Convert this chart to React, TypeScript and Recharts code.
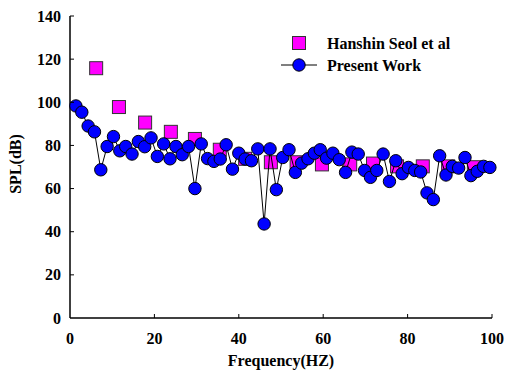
import React from 'react';
import { ScatterChart, Scatter, XAxis, YAxis, Customized } from 'recharts';

// Present Work: frequency (Hz) and SPL (dB)
const freqPresent = [
  1.4, 2.8, 4.3, 5.8, 7.3, 8.8, 10.3, 11.8, 13.2, 14.7, 16.2, 17.7, 19.2, 20.7, 22.2, 23.7, 25.1,
  26.6, 28.1, 29.6, 31.1, 32.6, 34.1, 35.6, 37.0, 38.5, 40.0, 41.5, 43.0, 44.5, 46.0, 47.4, 48.9,
  50.4, 51.9, 53.4, 54.9, 56.4, 57.9, 59.3, 60.8, 62.3, 63.8, 65.3, 66.8, 68.3, 69.8, 71.2, 72.7,
  74.2, 75.7, 77.2, 78.7, 80.2, 81.7, 83.1, 84.6, 86.1, 87.6, 89.1, 90.6, 92.1, 93.6, 95.0, 96.5,
  98.0, 99.5,
];
const splPresent = [
  98.3, 95.4, 89.0, 86.3, 68.7, 79.5, 84.1, 77.5, 79.5, 76.0, 81.8, 79.4, 83.5, 74.9, 80.7, 73.8,
  79.5, 75.7, 79.5, 60.0, 80.7, 73.9, 72.6, 73.7, 80.3, 69.0, 76.4, 73.7, 72.9, 78.4, 43.6, 78.4,
  59.5, 74.4, 78.0, 67.5, 71.8, 73.8, 76.4, 78.0, 74.1, 76.4, 73.4, 67.5, 76.9, 76.0, 68.4, 65.2,
  68.4, 76.0, 63.3, 72.9, 66.9, 69.8, 68.4, 67.7, 58.0, 54.9, 75.2, 66.3, 70.3, 69.5, 74.4, 66.0,
  68.0, 70.3, 69.8,
];

// Hanshin Seol et al: frequency (Hz) and SPL (dB)
const freqSeol = [6.2, 11.6, 17.8, 23.9, 29.6, 35.5, 41.5, 47.6, 53.7, 59.7, 66.4, 71.8, 77.5, 83.6, 89.6, 95.7];
const splSeol = [115.8, 97.8, 90.6, 86.3, 83.0, 78.0, 73.8, 72.2, 72.2, 71.2, 71.2, 71.6, 70.3, 70.3, 70.3, 69.9];

const xTicks = [0, 20, 40, 60, 80, 100];
const yTicks = [0, 20, 40, 60, 80, 100, 120, 140];

const presentData = freqPresent.map((f, i) => ({ f, spl: splPresent[i] }));
const seolData = freqSeol.map((f, i) => ({ f, spl: splSeol[i] }));

const FONT = '"Liberation Serif", "Times New Roman", serif';
const BLUE = '#0000FF';
const MAGENTA = '#FF00FF';

const textStyle = { fontFamily: FONT, fontWeight: 700, fontSize: 16, fill: '#000' } as const;

// Tick marks point into the plot area on both axes
const XTick = (props: any) => {
  const { x, y, payload } = props;
  return (
    <g>
      {payload.value !== 0 ? <line x1={x} x2={x} y1={y} y2={y - 4} stroke="#000" strokeWidth={1} /> : null}
      <text x={x} y={y + 20} dy="0.35em" textAnchor="middle" style={textStyle}>
        {payload.value}
      </text>
    </g>
  );
};

const YTick = (props: any) => {
  const { x, y, payload } = props;
  return (
    <g>
      {payload.value !== 0 ? <line x1={x} x2={x + 4} y1={y} y2={y} stroke="#000" strokeWidth={1} /> : null}
      <text x={x - 9} y={y} dy="0.35em" textAnchor="end" style={textStyle}>
        {payload.value}
      </text>
    </g>
  );
};

const YLabel = (props: any) => {
  const { viewBox } = props;
  const cx = viewBox.x + 7;
  const cy = viewBox.y + viewBox.height / 2 - 3;
  return (
    <text
      x={cx}
      y={cy}
      dy="0.35em"
      textAnchor="middle"
      transform={`rotate(-90, ${cx}, ${cy})`}
      style={textStyle}
    >
      SPL(dB)
    </text>
  );
};

const Square = (props: any) => {
  const { cx, cy } = props;
  return <rect x={cx - 6.5} y={cy - 6.5} width={13} height={13} fill={MAGENTA} stroke="#333" strokeWidth={1} />;
};

const Dot = (props: any) => {
  const { cx, cy } = props;
  return <circle cx={cx} cy={cy} r={6.2} fill={BLUE} stroke="#000" strokeWidth={1} />;
};

const LegendBlock = () => (
  <g>
    <rect x={284.5} y={28.5} width={13} height={13} fill={MAGENTA} stroke="#333" strokeWidth={1} />
    <text x={319} y={35} dy="0.35em" style={textStyle}>
      Hanshin Seol et al
    </text>
    <line x1={273} x2={309} y1={57} y2={57} stroke="#000" strokeWidth={1} />
    <circle cx={291} cy={57} r={6.2} fill={BLUE} stroke="#000" strokeWidth={1} />
    <text x={319} y={57} dy="0.35em" style={textStyle}>
      Present Work
    </text>
  </g>
);

export default function App() {
  return (
    <>
      <style>
        {'html, body { overflow: hidden; } body { margin: 8px 0 8px 8px; } svg.recharts-surface { max-width: none !important; }'}
      </style>
      <ScatterChart width={500} height={362} margin={{ top: 8, right: 16, bottom: 0, left: 0 }}>
        <XAxis
          type="number"
          dataKey="f"
          domain={[0, 100]}
          ticks={xTicks}
          interval={0}
          height={52}
          axisLine={{ stroke: '#000', strokeWidth: 1.5 }}
          tickLine={false}
          tickSize={0}
          tickMargin={0}
          tick={(p: any) => <XTick {...p} />}
          label={{ value: 'Frequency(HZ)', position: 'insideBottom', offset: 4, style: textStyle }}
        />
        <YAxis
          type="number"
          dataKey="spl"
          domain={[0, 140]}
          ticks={yTicks}
          interval={0}
          width={62}
          axisLine={{ stroke: '#000', strokeWidth: 1.5 }}
          tickLine={false}
          tickSize={0}
          tickMargin={0}
          tick={(p: any) => <YTick {...p} />}
          label={(p: any) => <YLabel {...p} />}
        />
        <Scatter name="Hanshin Seol et al" data={seolData} shape={(p: any) => <Square {...p} />} isAnimationActive={false} />
        <Scatter
          name="Present Work"
          data={presentData}
          line={{ stroke: '#000', strokeWidth: 1 }}
          lineType="joint"
          shape={(p: any) => <Dot {...p} />}
          isAnimationActive={false}
        />
        <Customized component={<LegendBlock />} />
      </ScatterChart>
    </>
  );
}
